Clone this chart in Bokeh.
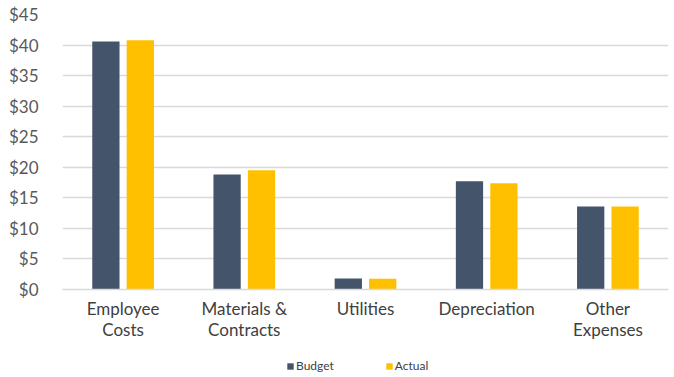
from bokeh.plotting import figure
from bokeh.models import FactorRange, ColumnDataSource, Legend, LegendItem, FixedTicker, NumeralTickFormatter
from bokeh.layouts import column
from bokeh.transform import dodge
from bokeh.embed import file_html
from bokeh.resources import INLINE

categories = ["Employee\nCosts", "Materials &\nContracts", "Utilities", "Depreciation", "Other\nExpenses"]
budget = [40.6, 18.8, 1.8, 17.7, 13.6]
actual = [40.8, 19.5, 1.75, 17.4, 13.6]
y_ticks = [0, 5, 10, 15, 20, 25, 30, 35, 40, 45]
series_names = ["Budget", "Actual"]
series_colors = ["#44546A", "#FFC000"]

source = ColumnDataSource(data=dict(cat=categories, budget=budget, actual=actual))

H1 = 345
p = figure(width=674, height=H1, x_range=FactorRange(*categories), y_range=(0, 45),
           output_backend="svg", toolbar_location=None,
           min_border_left=62, min_border_right=6, min_border_top=14, min_border_bottom=56)
p.outline_line_color = None
p.background_fill_color = "white"

r1 = p.vbar(x=dodge("cat", -0.142, range=p.x_range), top="budget", width=0.225, source=source,
            fill_color=series_colors[0], line_color=None)
r2 = p.vbar(x=dodge("cat", 0.142, range=p.x_range), top="actual", width=0.225, source=source,
            fill_color=series_colors[1], line_color=None)

p.yaxis.ticker = FixedTicker(ticks=y_ticks)
p.yaxis.formatter = NumeralTickFormatter(format="$0")
p.yaxis.axis_line_color = None
p.yaxis.major_tick_line_color = None
p.yaxis.minor_tick_line_color = None
p.yaxis.major_label_text_font = "Lato"
p.yaxis.major_label_text_font_size = "17px"
p.yaxis.major_label_text_color = "#595959"
p.yaxis.major_label_standoff = 18

p.xaxis.axis_line_color = "#d9d9d9"
p.xaxis.axis_line_width = 1.5
p.xaxis.major_tick_line_color = None
p.xaxis.minor_tick_line_color = None
p.xaxis.major_label_text_font = "Lato"
p.xaxis.major_label_text_font_size = "17px"
p.xaxis.major_label_text_color = "#404040"
p.xaxis.major_label_standoff = 2
p.xaxis.major_label_text_line_height = 1.0

p.xgrid.grid_line_color = None
p.ygrid.grid_line_color = "#d9d9d9"
p.ygrid.grid_line_width = 1.5

# legend strip
p2 = figure(width=674, height=377 - H1, x_range=(0, 1), y_range=(0, 1),
            output_backend="svg", toolbar_location=None,
            x_axis_location=None, y_axis_location=None,
            min_border_left=0, min_border_right=0, min_border_top=0, min_border_bottom=0)
p2.outline_line_color = None
p2.grid.visible = False
# zero-height swatch renderers (only used for the legend keys)
swatch = ColumnDataSource(data=dict(x=[0.5], top=[0], bottom=[0]))
l1 = p2.vbar(x="x", top="top", bottom="bottom", width=0.0, source=swatch,
             fill_color=series_colors[0], line_color=None)
l2 = p2.vbar(x="x", top="top", bottom="bottom", width=0.0, source=swatch,
             fill_color=series_colors[1], line_color=None)

legend = Legend(items=[LegendItem(label=series_names[0], renderers=[l1]),
                       LegendItem(label=series_names[1], renderers=[l2])],
                orientation="horizontal", location=(224, 4),
                label_text_font="Lato", label_text_font_size="12px", label_text_color="#404040",
                glyph_width=8, glyph_height=8, label_standoff=2, spacing=51,
                label_height=12,
                background_fill_alpha=0, border_line_color=None, padding=0, margin=0)
p2.add_layout(legend, "center")

layout = column(p, p2, spacing=0)
open("out.html", "w").write(file_html(layout, INLINE))
